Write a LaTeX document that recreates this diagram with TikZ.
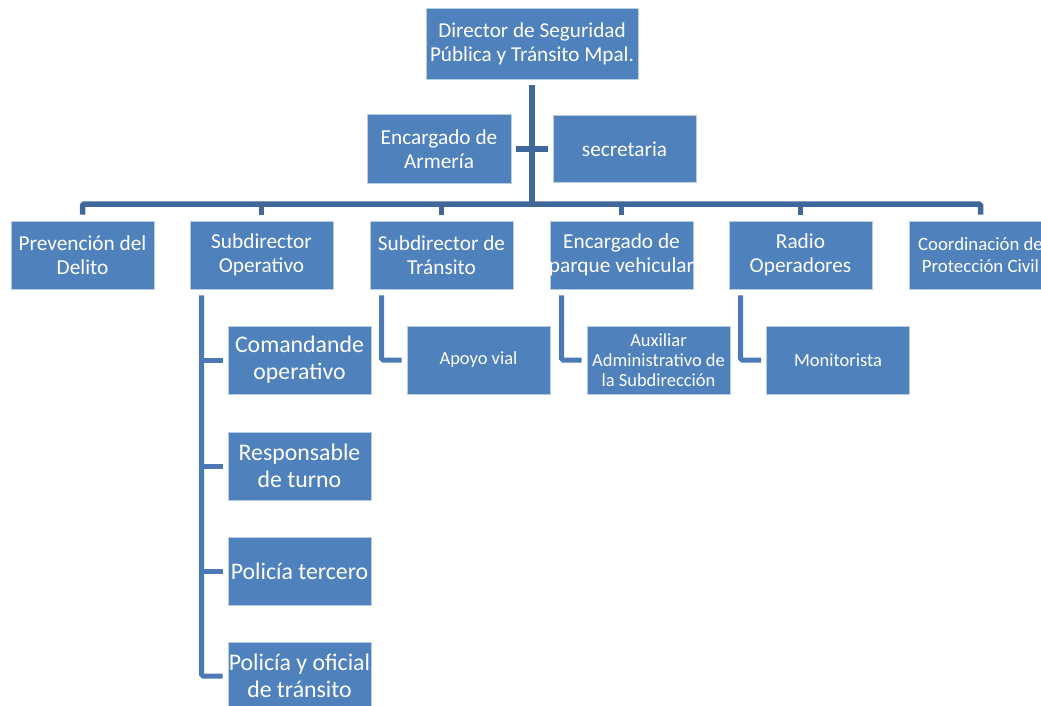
\documentclass[tikz,border=0pt]{standalone}
\usepackage{fontspec}
\setmainfont{Carlito}
\usetikzlibrary{calc}
\definecolor{BoxClr}{rgb}{0.31,0.506,0.741}
\definecolor{TrunkClr}{rgb}{0.247,0.404,0.604}
\definecolor{TwigClr}{rgb}{0.29,0.475,0.71}

\begin{document}
\begin{tikzpicture}[x=1pt,y=-1pt,
  box/.style={fill=BoxClr,draw=BoxClr!40!white,line width=.6pt,text=white,align=center,
    minimum width=143pt,minimum height=68pt,inner sep=1pt,font=\fontsize{21.3}{24.5}\selectfont},
  bigbox/.style={box,font=\fontsize{23.8}{27}\selectfont},
  smallbox/.style={box,font=\fontsize{18.5}{20}\selectfont},
  trunk/.style={draw=TrunkClr,line width=5.5pt,rounded corners=1.5pt},
  twig/.style={draw=TwigClr,line width=5pt,rounded corners=1.5pt}]
\useasboundingbox (0,0) rectangle (1041,706);

\node[box,minimum width=212pt,minimum height=71pt,font=\fontsize{21.2}{23.5}\selectfont] (dir) at (532,44) {Director de Seguridad\\Pública y Tránsito Mpal.};
\node[box,minimum width=144pt,minimum height=69pt] (arm) at (439,149) {Encargado de\\Armería};
\node[box,minimum height=67pt] (sec) at (624.5,149) {secretaria};

\node[box] (prev) at (82.5,255) {Prevención del\\Delito};
\node[box] (subop) at (261.5,255) {Subdirector\\Operativo};
\node[box] (subtr) at (441.5,255) {Subdirector de\\Tránsito};
\node[box,inner xsep=-4pt] (parque) at (621.5,255) {Encargado de\\parque vehicular};
\node[box] (radio) at (800.5,255) {Radio\\Operadores};
\node[box,font=\fontsize{18.8}{21.7}\selectfont] (pcivil) at (980.5,255) {Coordinación de\\Protección Civil};

\node[bigbox] (cmd) at (299.5,360) {Comandande\\operativo};
\node[bigbox] (resp) at (299.5,466) {Responsable\\de turno};
\node[bigbox] (pter) at (299.5,571) {Policía tercero};
\node[bigbox] (pofi) at (299.5,676) {Policía y oficial\\de tránsito};

\node[smallbox] (apoyo) at (478.5,360) {Apoyo vial};
\node[smallbox] (aux) at (658.5,360) {Auxiliar\\Administrativo de\\la Subdirección};
\node[smallbox] (moni) at (838,360) {Monitorista};

\coordinate (bar) at (532,204);
\draw[trunk] ($(dir.south)+(0,5)$) -- (bar);
\draw[trunk] ($(arm.east)+(5,0)$) -- ($(sec.west)+(-5,0)$);
\draw[trunk] ($(prev.north)+(0,-6)$) |- (bar) -| ($(pcivil.north)+(0,-6)$);
\draw[trunk] (bar -| subop) -- ($(subop.north)+(0,-6)$);
\draw[trunk] (bar -| subtr) -- ($(subtr.north)+(0,-6)$);
\draw[trunk] (bar -| parque) -- ($(parque.north)+(0,-6)$);
\draw[trunk] (bar -| radio) -- ($(radio.north)+(0,-6)$);

\coordinate (opline) at ($(subop.south west)+(12,6)$);
\draw[twig] (opline) |- ($(pofi.west)+(-5,0)$);
\draw[twig] (opline |- cmd) -- ($(cmd.west)+(-5,0)$);
\draw[twig] (opline |- resp) -- ($(resp.west)+(-5,0)$);
\draw[twig] (opline |- pter) -- ($(pter.west)+(-5,0)$);
\draw[twig] ($(subtr.south west)+(12,6)$) |- ($(apoyo.west)+(-5,0)$);
\draw[twig] ($(parque.south west)+(12,6)$) |- ($(aux.west)+(-5,0)$);
\draw[twig] ($(radio.south west)+(12,6)$) |- ($(moni.west)+(-5,0)$);

\end{tikzpicture}
\end{document}
